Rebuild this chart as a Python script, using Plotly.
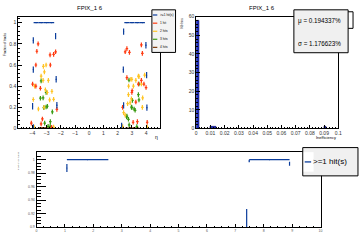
import plotly.graph_objects as go

W, H = 360, 240
def px(x): return x / W
def py(y): return 1 - y / H

FONT = "Liberation Sans, Arial, sans-serif"

# ---------------- data: top-left (fraction of tracks vs eta) ----------------
blue_eta = [-3.74, -3.38, -3.01, -2.65, 2.65, 3.01, 3.38, 3.74,
            -3.94, -2.37, -3.94, -2.33, -3.99, -2.28, -3.94, 2.42, 3.99, 2.40, 4.04, 2.42, 4.06, 2.28]
blue_val = [1, 1, 1, 1, 1, 1, 1, 1,
            0.833, 0.873, 0.557, 0.465, 0.21, 0.22, 0.01, 0.916, 0.787, 0.557, 0.504, 0.218, 0.197, 0.025]
blue_ex = [0.18] * 8 + [0.03] * 14
blue_ey = [0] * 8 + [0.03] * 14

red_eta = [-3.60, -3.69, -2.76, -2.51, -2.37, -3.76, -2.74, -3.99, -3.76, -3.44, -2.28, -3.30, -4.08, -3.39, -2.65,
           3.67, 2.53, 2.65, 2.83, 3.74, 3.67, 3.46, 3.02, 2.35, 3.28, 4.08, 3.39, 3.09, 2.65, 4.00, 3.85, 3.00]
red_val = [0.80, 0.73, 0.695, 0.70, 0.725, 0.60, 0.60, 0.42, 0.40, 0.38, 0.18, 0.09, 0.05, 0.043, 0.01,
           0.79, 0.725, 0.755, 0.72, 0.71, 0.455, 0.42, 0.357, 0.20, 0.25, 0.059, 0.065, 0.059, 0.48, 0.387, 0.42, 0.34]

yel_eta = [-3.23, -3.04, -3.16, -3.39, -3.25, -2.88, -3.85, -3.09, -2.95, -2.63, -3.94, -2.79, -2.51, -3.58, -3.18, -3.88, -2.51,
           3.90, 3.00, 3.28, 3.50, 2.77, 3.11, 2.97, 2.70, 3.74, 2.53, 2.93, 3.46, 3.67, 2.76, 3.76, 2.42, 2.88, 2.35, 4.08]
yel_val = [0.587, 0.60, 0.535, 0.495, 0.455, 0.455, 0.40, 0.366, 0.34, 0.35, 0.274, 0.27, 0.276, 0.184, 0.20, 0.013, 0.013,
           0.505, 0.465, 0.455, 0.49, 0.40, 0.40, 0.28, 0.234, 0.20, 0.126, 0.465, 0.495, 0.42, 0.32, 0.29, 0.15, 0.243, 0.018, 0.013]

grn_eta = [-3.39, -3.04, -3.44, -3.25, -2.95, -3.04, -3.20, -2.60, -2.74, -3.14, -2.90, -2.75,
           3.04, 3.50, 3.00, 3.16, 2.65, 3.46, 2.97, 3.23, 2.63, 2.76, 2.81, 3.35, 3.50, 2.80]
grn_val = [0.45, 0.34, 0.286, 0.29, 0.21, 0.203, 0.197, 0.157, 0.065, 0.05, 0.02, 0.02,
           0.265, 0.27, 0.197, 0.184, 0.117, 0.32, 0.203, 0.172, 0.11, 0.087, 0.034, 0.018, 0.42, 0.458]

brn_eta = [-3.50, -3.30, -3.10, -2.90, 2.65, 2.90, 3.15, 3.40]
brn_val = [0.004, 0.006, 0.005, 0.004, 0.004, 0.006, 0.006, 0.004]

# ---------------- data: top-right (inefficiency histogram) ----------------
ineff_x = [0.001, 0.012, 0.091]
ineff_w = [0.002, 0.004, 0.0016]
ineff_n = [58, 1, 1]

# ---------------- data: bottom (>=1 hit(s)) ----------------
bot_x = [1.80, 8.20, 1.07, 7.49, 8.91, 7.40]
bot_y = [1.0, 1.0, 0.9877, 0.998, 0.994, 0.90]
bot_ex = [0.73, 0.71, 0.0, 0.0, 0.0, 0.0]
bot_eyp = [0, 0, 0.006, 0.002, 0.003, 0.027]
bot_eym = [0, 0, 0.006, 0.002, 0.003, 0.0]

BLUE = "#0b3d9c"
RED = "#ff3a10"
YEL = "#ffc425"
GRN = "#3a9a12"
BRN = "#7a3a0a"

fig = go.Figure()

def pts(x, y, ex, ey, col, xa="x", ya="y", eym=None):
    ey_d = dict(type="data", array=ey, width=0, thickness=1.2, color=col, visible=True)
    if eym is not None:
        ey_d["symmetric"] = False
        ey_d["arrayminus"] = eym
    fig.add_trace(go.Scatter(
        x=x, y=y, mode="markers", xaxis=xa, yaxis=ya,
        marker=dict(size=1, color=col),
        error_x=dict(type="data", array=ex, width=0, thickness=1.2, color=col),
        error_y=ey_d, showlegend=False, hoverinfo="skip"))

pts(brn_eta, brn_val, [0.12] * len(brn_eta), [0.004] * len(brn_eta), BRN)
pts(grn_eta, grn_val, [0.09] * len(grn_eta), [0.022] * len(grn_eta), GRN)
pts(yel_eta, yel_val, [0.09] * len(yel_eta), [0.022] * len(yel_eta), YEL)
pts(red_eta, red_val, [0.09] * len(red_eta), [0.022] * len(red_eta), RED)
pts(blue_eta, blue_val, blue_ex, blue_ey, BLUE)

fig.add_trace(go.Bar(x=ineff_x, y=ineff_n, width=ineff_w, xaxis="x2", yaxis="y2",
                     marker=dict(color="#1f30c0", line=dict(color="#000066", width=0.6)),
                     showlegend=False, hoverinfo="skip"))

pts(bot_x, bot_y, bot_ex, bot_eyp, BLUE, "x3", "y3", eym=bot_eym)

tf = dict(family=FONT, size=5, color="#333")
base = dict(showline=True, mirror=True, linecolor="black", linewidth=1, ticks="inside",
            tickcolor="black", tickwidth=1, showgrid=False, zeroline=False, tickfont=tf)

def minor(d, l):
    return dict(dtick=d, ticks="inside", ticklen=l, tickcolor="black", tickwidth=1, showgrid=False)

fig.update_layout(
    width=W, height=H, margin=dict(l=0, r=0, t=0, b=0),
    paper_bgcolor="white", plot_bgcolor="white", showlegend=False, bargap=0,
    xaxis=dict(domain=[px(17.5), px(161.5)], range=[-5, 5], tickmode="array",
               tickvals=list(range(-4, 5)), ticklen=3.5, minor=minor(0.2, 1.8), anchor="y", **base),
    yaxis=dict(domain=[py(128.7), py(14)], range=[0, 1.057], dtick=0.2, ticklen=3.5,
               minor=minor(0.04, 1.8), anchor="x", **base),
    xaxis2=dict(domain=[px(198), px(342)], range=[0, 0.1], dtick=0.01, ticklen=3.5,
                minor=minor(0.002, 1.8), anchor="y2", **base),
    yaxis2=dict(domain=[py(128.7), py(14)], range=[0, 60], dtick=10, ticklen=3.5,
                minor=minor(2, 1.8), anchor="x2", **base),
    xaxis3=dict(domain=[px(36), px(324)], range=[0, 10], dtick=1, ticklen=3,
                minor=minor(0.25, 1.5), anchor="y3", **{**base, "tickfont": dict(family=FONT, size=3.5, color="#555")}),
    yaxis3=dict(domain=[py(230), py(153.3)], range=[0.9, 1.0106], dtick=0.02, ticklen=9,
                minor=minor(0.005, 4.5), anchor="x3", **{**base, "tickfont": dict(family=FONT, size=3.5, color="#555")}),
)

ann = []
def text(x, y, s, size, xa="center", ya="middle", angle=0, color="black"):
    ann.append(dict(x=px(x), y=py(y), xref="paper", yref="paper", text=s, showarrow=False,
                    xanchor=xa, yanchor=ya, textangle=angle,
                    font=dict(family=FONT, size=size, color=color)))

shapes = []
def rect(x0, y0, x1, y1, fill, line="black", w=1):
    shapes.append(dict(type="rect", xref="paper", yref="paper", x0=px(x0), x1=px(x1), y0=py(y1), y1=py(y0),
                       fillcolor=fill, line=dict(color=line, width=w), layer="above"))
def hline(x0, x1, y, col, w=1.3):
    shapes.append(dict(type="line", xref="paper", yref="paper", x0=px(x0), x1=px(x1), y0=py(y), y1=py(y),
                       line=dict(color=col, width=w), layer="above"))

# titles
text(90, 5.5, "FPIX_1 6", 6)
text(265, 5.5, "FPIX_1 6", 6)
text(4, 42, "Fraction of tracks", 3, angle=-90)
text(183.5, 20, "Nb bins", 3, angle=-90)
text(161, 137.5, "η", 5, xa="right")
text(341.5, 137.5, "Inefficiency", 4, xa="right")
text(18.5, 162, "Fraction of tracks", 2.4, angle=-90, color="#555")

# top-left legend
rect(153, 7, 177, 50.7, "#f3f3f3")
leg = [(">=1 hit(s)", BLUE, 12.3), ("1 hit", RED, 20.7), ("2 hits", YEL, 29.0),
       ("3 hits", GRN, 37.2), ("4 hits", BRN, 45.5)]
for s, c, yy in leg:
    hline(154, 158.5, yy, c, 1.2)
    text(159, yy, s, 3.2, xa="left")

# stats boxes
rect(340, 9, 357, 26, "white")
rect(297, 7, 352, 51, "#f0f0f0")
text(299, 18.5, "μ = 0.194337%", 6.3, xa="left")
text(299, 42, "σ = 1.176623%", 6.3, xa="left")

# bottom legend
rect(306, 148.3, 362, 177.3, "#f0f0f0")
rect(307, 153, 317, 173, "white", line="white", w=0)
hline(308, 314.5, 163, BLUE, 1.3)
text(314, 163, ">=1 hit(s)", 8, xa="left")

fig.update_layout(annotations=ann, shapes=shapes)
fig.write_html("out.html")
